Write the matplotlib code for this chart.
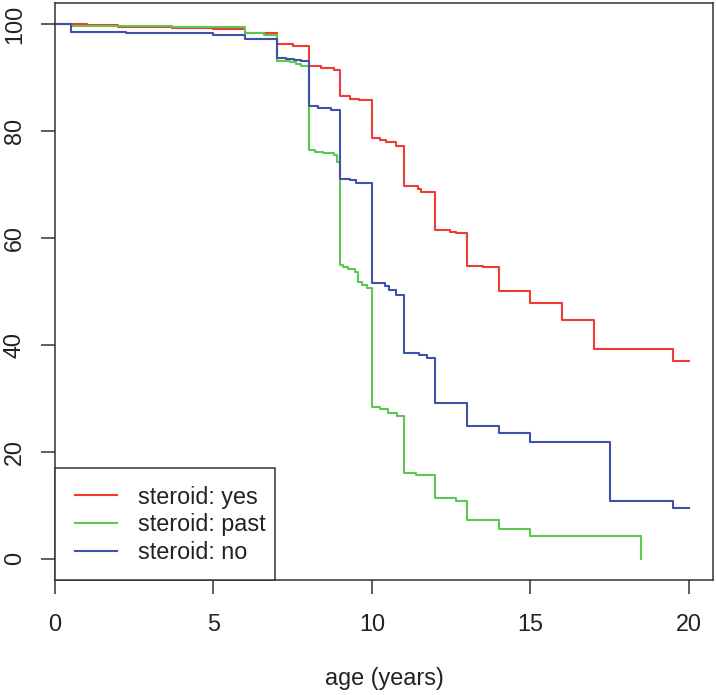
import matplotlib
matplotlib.use("Agg")
import matplotlib.pyplot as plt
from matplotlib.patches import Rectangle

plt.rcParams['font.family'] = ['Liberation Sans', 'DejaVu Sans']

# survival curves (percent), step changes at each time
t_yes = [0, 1.0, 2.0, 3.7, 5, 6, 7, 7.5, 8, 8.4, 8.8, 9, 9.3, 9.6, 10, 10.25, 10.45, 10.75,
         11, 11.45, 11.55, 12, 12.45, 12.65, 13, 13.5, 14, 15, 16, 17, 19.5, 20]
s_yes = [100, 99.8, 99.6, 99.4, 99.2, 98.3, 96.3, 96.0, 92.3, 91.9, 91.5, 86.5, 86.1, 85.9,
         78.7, 78.4, 77.9, 77.3, 69.8, 69.2, 68.6, 61.6, 61.2, 60.9, 54.8, 54.5, 50.0,
         47.8, 44.7, 39.2, 36.9, 36.9]

t_past = [0, 0.5, 3.7, 6, 6.6, 7, 7.4, 7.6, 7.75, 8, 8.2, 8.45, 8.8, 8.9, 9, 9.1, 9.25,
          9.45, 9.55, 9.7, 9.85, 10, 10.25, 10.5, 10.8, 11, 11.4, 12, 12.65, 13, 14, 15, 18.5]
s_past = [100, 99.7, 99.6, 98.3, 98.1, 93.1, 92.9, 92.6, 92.3, 76.5, 76.2, 75.9, 75.6, 74.3,
          55.0, 54.6, 54.3, 53.7, 51.8, 51.3, 50.7, 28.4, 28.1, 27.2, 26.7, 16.1, 15.6,
          11.3, 10.8, 7.3, 5.6, 4.3, 0]

t_no = [0, 0.5, 2.25, 3.4, 5, 6, 7, 7.3, 7.55, 7.75, 8, 8.3, 8.7, 9, 9.3, 9.5, 10, 10.4,
        10.55, 10.75, 11, 11.5, 11.75, 12, 13, 14, 15, 17.5, 19.5, 20]
s_no = [100, 98.6, 98.4, 98.3, 98.1, 97.3, 93.7, 93.5, 93.3, 93.1, 84.7, 84.4, 83.9, 71.1,
        70.8, 70.4, 51.5, 51.0, 50.3, 49.3, 38.5, 38.1, 37.5, 29.1, 24.9, 23.6, 21.8,
        10.8, 9.4, 9.4]

labels = ['steroid: yes', 'steroid: past', 'steroid: no']
colors = ['#EE3B33', '#5DC84F', '#3F51A8']

fig = plt.figure(figsize=(7.17, 6.95), dpi=100)
ax = fig.add_axes([55 / 717, 115 / 695, 658 / 717, 577 / 695])

for t, s, lab, c in zip([t_yes, t_past, t_no], [s_yes, s_past, s_no], labels, colors):
    ax.step(t, s, where='post', color=c, lw=1.5, label=lab)

ax.set_xlim(0, 20.76)
ax.set_ylim(-4, 104)
ax.set_xticks([0, 5, 10, 15, 20])
ax.set_yticks([0, 20, 40, 60, 80, 100])
ax.tick_params(axis='both', direction='out', length=10, width=1.1, color='#333333',
               labelsize=16.8, labelcolor='#222222')
ax.tick_params(axis='x', pad=14)
ax.tick_params(axis='y', pad=11)
for lab in ax.get_yticklabels():
    lab.set_rotation(90)
    lab.set_va('center')
for sp in ax.spines.values():
    sp.set_linewidth(1.1)
    sp.set_color('#333333')

ax.set_xlabel('age (years)', fontsize=16.8, color='#222222')
ax.xaxis.set_label_coords(0.5, -0.15)

# R-style legend box: wider padding on the left than on the right
ax.add_patch(Rectangle((0, 0), 0.3343, 0.1941, transform=ax.transAxes, facecolor='white',
                       edgecolor='#333333', lw=1.1, zorder=4, clip_on=False))
leg = ax.legend(loc='lower left', bbox_to_anchor=(0.0304, 0.028), borderaxespad=0,
                frameon=False, fontsize=16.8, handlelength=1.8, handletextpad=0.9,
                borderpad=0, labelspacing=0.2)
leg.set_zorder(5)
for txt in leg.get_texts():
    txt.set_color('#222222')

fig.savefig('out.png', dpi=100)
